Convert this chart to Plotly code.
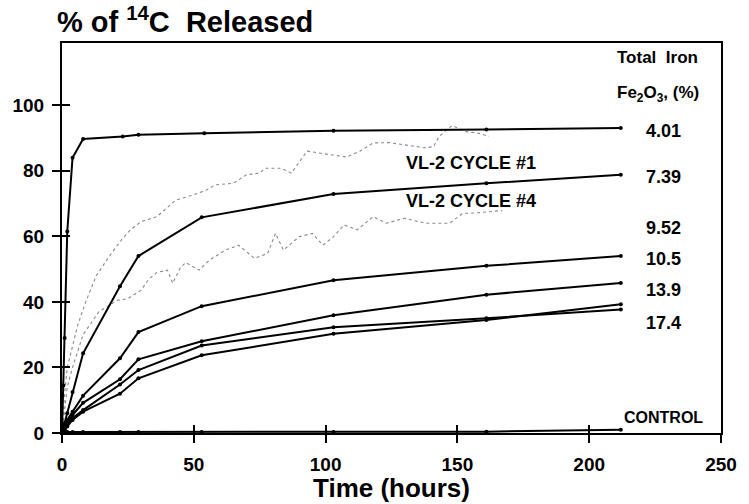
import plotly.graph_objects as go

# ---- data ----
t_401 = [0, 0.5, 1, 2, 4, 8, 23, 29, 54, 103, 161, 212]
fe_401 = [0, 14.5, 29, 61.5, 84, 89.7, 90.5, 91, 91.5, 92.2, 92.6, 93.1]

t_std = [0, 1, 2, 4, 8, 22, 29, 53, 103, 161, 212]
fe_739 = [0, 3, 6, 12.5, 24.3, 44.8, 54, 65.8, 72.9, 76.2, 78.8]
fe_c = [0, 2, 4, 6.5, 11.4, 22.8, 30.8, 38.7, 46.6, 51, 54]
fe_d = [0, 1.5, 3, 5.5, 9.2, 16.4, 22.5, 28, 35.9, 42.2, 45.8]
fe_e = [0, 1.2, 2.5, 4.5, 7, 14.8, 19.2, 26.7, 32.3, 35, 37.7]
fe_f = [0, 1, 2, 4, 6.5, 12, 16.7, 23.7, 30.3, 34.5, 39.3]
control = [0, 0.3, 0.3, 0.3, 0.3, 0.3, 0.3, 0.3, 0.3, 0.4, 1.0]

t_vl1 = [0, 1, 2, 4, 6, 9, 13, 18, 23, 26, 30, 36, 43, 50, 55, 58, 65, 70, 75, 77,
         83, 87, 93, 101, 108, 113, 118, 124, 130, 138, 141, 143, 148, 153, 158, 162]
vl1 = [0, 12, 20, 27, 33, 40, 48, 54, 59.4, 62, 64.5, 66, 71, 72.7, 74.2, 75.7, 76.2, 78.8, 79.3, 80.8,
       80.8, 79.3, 86, 85, 84.2, 86, 88.5, 88.6, 88, 87, 87.4, 90.5, 93.8, 92, 91.5, 90.5]

t_vl4 = [0, 1, 2, 4, 8, 14, 21, 25, 30, 33, 36, 40, 42, 45, 47, 52, 56, 62, 67, 73, 78, 81, 84,
         90, 95, 99, 103, 107, 112, 118, 123, 130, 138, 147, 152, 158, 167]
vl4 = [0, 8, 14, 20, 30, 37, 40.5, 41, 43.6, 47, 49, 49.7, 45.7, 50.6, 52, 49.7, 52.8, 55.8, 57.3, 53.3, 54.8, 60.9, 55.8,
       59.9, 60.9, 57.3, 59.9, 63.5, 62, 66, 64, 65.5, 64, 64, 67, 67.2, 67.9]

iron_labels = ["4.01", "7.39", "9.52", "10.5", "13.9", "17.4"]
iron_label_y = [92, 78, 62.5, 53, 43.5, 33.5]

x_ticks = [0, 50, 100, 150, 200, 250]
y_ticks = [0, 20, 40, 60, 80, 100]

FONT = "Liberation Sans"
fig = go.Figure()

for tx, ty in [(t_vl1, vl1), (t_vl4, vl4)]:
    fig.add_trace(go.Scatter(x=tx, y=ty, mode="lines",
                             line=dict(color="#8a8a8a", width=1.1, dash="dot"),
                             hoverinfo="skip"))

fig.add_trace(go.Scatter(x=t_401, y=fe_401, mode="lines+markers",
                         line=dict(color="black", width=2), marker=dict(size=4, color="black")))
for ys in [fe_739, fe_c, fe_d, fe_e, fe_f, control]:
    fig.add_trace(go.Scatter(x=t_std, y=ys, mode="lines+markers",
                             line=dict(color="black", width=2), marker=dict(size=4, color="black")))

# invisible trace for the inside-tick overlay axes
fig.add_trace(go.Scatter(x=[0], y=[0], xaxis="x2", yaxis="y2", mode="markers",
                         marker=dict(size=1, opacity=0), hoverinfo="skip"))

tickfont = dict(family=FONT, size=19, color="black", weight="bold")

fig.update_layout(
    width=749, height=504,
    margin=dict(l=61, r=21, t=43, b=71),
    paper_bgcolor="white", plot_bgcolor="white",
    showlegend=False,
    xaxis=dict(range=[0, 250], tickvals=x_ticks, ticks="outside", ticklen=8, tickwidth=1.5,
               tickcolor="black", showgrid=False, zeroline=False, showline=True,
               linecolor="black", linewidth=2, mirror=True, tickfont=tickfont,
               ticklabelstandoff=5),
    yaxis=dict(range=[0, 119], tickvals=y_ticks, ticks="outside", ticklen=8, tickwidth=1.5,
               tickcolor="black", showgrid=False, zeroline=False, showline=True,
               linecolor="black", linewidth=2, mirror=True, tickfont=tickfont,
               ticklabelstandoff=4),
    xaxis2=dict(range=[0, 250], overlaying="x", anchor="y", side="bottom", tickvals=x_ticks[1:5],
                ticks="inside", ticklen=8, tickwidth=1.5, tickcolor="black",
                showticklabels=False, showgrid=False, zeroline=False, showline=False),
    yaxis2=dict(range=[0, 119], overlaying="y", anchor="x", side="left", tickvals=y_ticks,
                ticks="inside", ticklen=8, tickwidth=1.5, tickcolor="black",
                showticklabels=False, showgrid=False, zeroline=False, showline=False),
)

ann = []
ann.append(dict(text="% of <sup>14</sup>C  Released", x=-0.01, y=1.058, xref="paper", yref="paper",
                xanchor="left", yanchor="middle", showarrow=False,
                font=dict(family=FONT, size=29, color="black", weight="bold")))
ann.append(dict(text="Time (hours)", x=0.5, y=-0.098, xref="paper", yref="paper",
                xanchor="center", yanchor="top", showarrow=False,
                font=dict(family=FONT, size=26, color="black", weight="bold")))
ann.append(dict(text="Total  Iron", x=226, y=114.5, xanchor="center", yanchor="middle", showarrow=False,
                font=dict(family=FONT, size=17, color="black", weight="bold")))
ann.append(dict(text="Fe<sub>2</sub>O<sub>3</sub>, (%)", x=226, y=103.5, xanchor="center", yanchor="middle",
                showarrow=False, font=dict(family=FONT, size=17, color="black", weight="bold")))
for lab, yy in zip(iron_labels, iron_label_y):
    ann.append(dict(text=lab, x=228, y=yy, xanchor="center", yanchor="middle", showarrow=False,
                    font=dict(family=FONT, size=18, color="black", weight="bold")))
ann.append(dict(text="VL-2 CYCLE #1", x=155, y=82.5, xanchor="center", yanchor="middle", showarrow=False,
                font=dict(family=FONT, size=18, color="black", weight="bold")))
ann.append(dict(text="VL-2 CYCLE #4", x=155, y=70.8, xanchor="center", yanchor="middle", showarrow=False,
                font=dict(family=FONT, size=18, color="black", weight="bold")))
ann.append(dict(text="CONTROL", x=228, y=4.7, xanchor="center", yanchor="middle", showarrow=False,
                font=dict(family=FONT, size=16, color="black", weight="bold")))
fig.update_layout(annotations=ann)

fig.write_html("out.html", config={"displayModeBar": False},
               post_script="document.body.style.margin='0';")
